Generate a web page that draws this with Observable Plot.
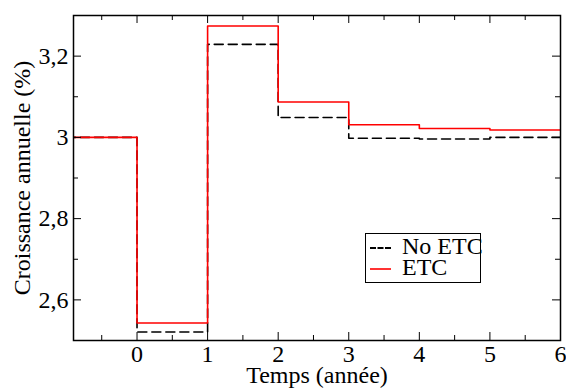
<!DOCTYPE html>
<html><head><meta charset="utf-8">
<script src="https://cdn.jsdelivr.net/npm/d3@7"></script>
<script src="https://cdn.jsdelivr.net/npm/@observablehq/plot@0.6"></script>
<style>
body{margin:0;background:#fff;}
#wrap{position:relative;width:566px;height:389px;overflow:hidden;font-family:'Liberation Serif',serif;}
#wrap svg text{font-family:'Liberation Serif',serif !important;font-size:24px !important;fill:#000;}
#legend{position:absolute;left:365px;top:233px;width:114px;height:48px;border:1px solid #000;background:#fff;font-family:'Liberation Serif',serif;font-size:24px;line-height:21px;}
.row{position:absolute;left:4px;white-space:nowrap;}
.sw{display:inline-block;width:21px;height:0;vertical-align:middle;margin-right:11px;}
</style></head>
<body><div id="wrap"></div>
<script>
const starts = [-1, 0, 1, 2, 3, 4, 5];
const endYear = 6;
const etc = [3.0, 2.543, 3.274, 3.087, 3.031, 3.022, 3.018];
const noEtc = [3.0, 2.521, 3.229, 3.049, 2.998, 2.996, 3.0];
const xTickLabels = [0, 1, 2, 3, 4, 5, 6];
const yTickLabels = [2.6, 2.8, 3.0, 3.2];
const seriesNames = ["No ETC", "ETC"];

function rows(vals, name) {
  const r = starts.map((s, i) => ({t: s, v: vals[i], s: name}));
  r.push({t: endYear, v: vals[vals.length - 1], s: name});
  return r;
}
const dNo = rows(noEtc, seriesNames[0]);
const dEtc = rows(etc, seriesNames[1]);

const W = 566, H = 389, mL = 73, mR = 6, mT = 15, mB = 49;
const iw = W - mL - mR, ih = H - mT - mB;
const xMajor = d3.range(0, 7, 1), xMinor = d3.range(-0.5, 6, 1);
const yMajor = yTickLabels, yMinor = d3.range(2.5, 3.31, 0.1).filter(v => !yMajor.some(m => Math.abs(m - v) < 1e-6));
const fmt = d => String(+d.toFixed(1)).replace(".", ",");

const chart = Plot.plot({
  width: W, height: H,
  marginLeft: mL, marginRight: mR, marginTop: mT, marginBottom: mB,
  style: {background: "#fff", color: "#000"},
  x: {domain: [-0.9, 6]},
  y: {domain: [2.5, 3.3]},
  marks: [
    Plot.line(dNo, {x: "t", y: "v", curve: "step-after", stroke: "#000", strokeWidth: 1.6, strokeDasharray: "9,5", clip: true}),
    Plot.line(dEtc, {x: "t", y: "v", curve: "step-after", stroke: "#ff0000", strokeWidth: 1.6, clip: true}),
    Plot.tickX(xMajor, {x: d => d, insetTop: ih - 8, stroke: "#000", strokeWidth: 1}),
    Plot.tickX(xMajor, {x: d => d, insetBottom: ih - 8, stroke: "#000", strokeWidth: 1}),
    Plot.tickX(xMinor, {x: d => d, insetTop: ih - 5, stroke: "#000", strokeWidth: 1}),
    Plot.tickX(xMinor, {x: d => d, insetBottom: ih - 5, stroke: "#000", strokeWidth: 1}),
    Plot.tickY(yMajor, {y: d => d, insetRight: iw - 8, stroke: "#000", strokeWidth: 1}),
    Plot.tickY(yMajor, {y: d => d, insetLeft: iw - 8, stroke: "#000", strokeWidth: 1}),
    Plot.tickY(yMinor, {y: d => d, insetRight: iw - 5, stroke: "#000", strokeWidth: 1}),
    Plot.tickY(yMinor, {y: d => d, insetLeft: iw - 5, stroke: "#000", strokeWidth: 1}),
    Plot.axisX({ticks: xTickLabels, tickSize: 0, tickPadding: 4, tickFormat: d => String(d),
      label: "Temps (année)", labelAnchor: "center", labelOffset: 42, labelArrow: "none"}),
    Plot.axisY({ticks: yTickLabels, tickSize: 0, tickPadding: 5, tickFormat: fmt,
      label: "Croissance annuelle (%)", labelAnchor: "center", labelOffset: 61, labelArrow: "none"}),
    Plot.frame({stroke: "#000", strokeWidth: 1.5})
  ]
});
const wrap = document.getElementById("wrap");
wrap.appendChild(chart);
chart.style.overflow = "visible";

const legend = document.createElement("div");
legend.id = "legend";
legend.innerHTML =
  `<div class="row" style="top:2px"><span class="sw" style="border-top:2px dashed #000"></span>${seriesNames[0]}</div>` +
  `<div class="row" style="top:23px"><span class="sw" style="border-top:2px solid #ff3333"></span>${seriesNames[1]}</div>`;
wrap.appendChild(legend);
</script>
</body></html>
